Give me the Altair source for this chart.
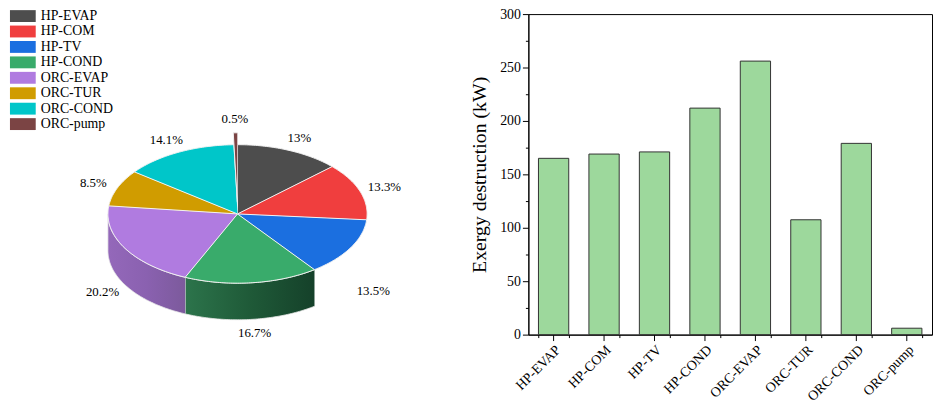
import math
import altair as alt
import pandas as pd

# ---------------- data ----------------
names = ["HP-EVAP", "HP-COM", "HP-TV", "HP-COND", "ORC-EVAP", "ORC-TUR", "ORC-COND", "ORC-pump"]
exergy_kw = [165, 169, 171, 212, 256, 107.5, 179, 6]
share_pct = [13, 13.3, 13.5, 16.7, 20.2, 8.5, 14.1, 0.5]
y_ticks = [0, 25, 50, 75, 100, 125, 150, 175, 200, 225, 250, 275, 300]

# ---------------- styles ----------------
slice_colors = ["#4d4d4d", "#f03e3e", "#1b6fe0", "#39ab6b", "#b07be0", "#d09c00", "#00c6c9", "#7b4444"]
exploded = ["ORC-pump"]
wall_gradients = {
    "HP-COND": ["#2c744b", "#1f5a38", "#15412a"],
    "ORC-EVAP": ["#9468ba", "#8a61b0", "#7c5a9c"],
}
FONT = "Liberation Serif"

# pie geometry (pixels inside the pie panel)
PW, PH = 440, 375
CX, CY, RX, RY, DEPTH, EXPLODE = 231, 202, 131, 70, 37, 12

total = sum(share_pct)
starts, ends = [], []
acc = 0.0
for p in share_pct:
    starts.append(acc / total * 360.0)
    acc += p
    ends.append(acc / total * 360.0)


def pt(phi, r=1.0, dx=0.0, dy=0.0):
    a = math.radians(phi)
    return CX + dx + RX * r * math.sin(a), CY + dy - RY * r * math.cos(a)


def arc(a, b):
    n = max(2, int(abs(b - a)) + 2)
    return [a + (b - a) * i / (n - 1) for i in range(n)]


top_rows, wall_rows, label_rows = [], [], []
for name, p, a, b in zip(names, share_pct, starts, ends):
    m = (a + b) / 2.0
    dx = dy = 0.0
    if name in exploded:
        dx = EXPLODE * math.sin(math.radians(m))
        dy = -EXPLODE * math.cos(math.radians(m))
    pts = [(CX + dx, CY + dy)] + [pt(f, 1.0, dx, dy) for f in arc(a, b)]
    for i, (x, y) in enumerate(pts):
        top_rows.append({"name": name, "i": i, "x": x, "y": y})
    if name in wall_gradients:
        wa, wb = max(a, 90.0), min(b, 270.0)
        edge = [pt(f) for f in arc(wa, wb)]
        poly = edge + [(x, y + DEPTH) for (x, y) in reversed(edge)]
        for i, (x, y) in enumerate(poly):
            wall_rows.append({"name": name, "i": i, "x": x, "y": y})
    lx, ly = pt(m, 1.2, dx, dy)
    if math.cos(math.radians(m)) < 0:
        ly += DEPTH
    label_rows.append({"name": name, "x": lx, "y": ly, "label": f"{p:g}%"})

top_df = pd.DataFrame(top_rows)
wall_df = pd.DataFrame(wall_rows)
label_df = pd.DataFrame(label_rows)

X = alt.X("x:Q", scale=alt.Scale(domain=[0, PW], nice=False, zero=False), axis=None)
Y = alt.Y("y:Q", scale=alt.Scale(domain=[0, PH], nice=False, zero=False, reverse=True), axis=None)

walls = []
for name, stops in wall_gradients.items():
    grad = alt.LinearGradient(
        gradient="linear",
        stops=[alt.GradientStop(color=c, offset=i / (len(stops) - 1)) for i, c in enumerate(stops)],
        x1=0, x2=1, y1=0, y2=0,
    )
    walls.append(
        alt.Chart(wall_df)
        .transform_filter(alt.datum.name == name)
        .mark_line(filled=True, fill=grad, stroke="#e8e8e8", strokeWidth=0.8)
        .encode(x=X, y=Y, order="i:Q")
    )

top = (
    alt.Chart(top_df)
    .mark_line(filled=True, stroke="#f2f2f2", strokeWidth=1, strokeJoin="round")
    .encode(
        x=X,
        y=Y,
        order="i:Q",
        color=alt.Color(
            "name:N",
            sort=names,
            scale=alt.Scale(domain=names, range=slice_colors),
            legend=alt.Legend(
                title=None,
                orient="none",
                legendX=7,
                legendY=-5,
                symbolType="M-2.17,-1L2.17,-1L2.17,1L-2.17,1Z",
                symbolSize=144,
                symbolStrokeWidth=0,
                labelFont=FONT,
                labelFontSize=14,
                labelColor="black",
                labelOffset=11,
                rowPadding=1.6,
            ),
        ),
    )
)

labels = (
    alt.Chart(label_df)
    .mark_text(font=FONT, fontSize=13, color="black", align="center", baseline="middle")
    .encode(x=X, y=Y, text="label:N")
)

pie = alt.layer(*walls, top, labels).properties(width=PW, height=PH)

# ---------------- bar chart ----------------
bar_df = pd.DataFrame({"name": names, "kw": exergy_kw})
xscale = alt.Scale(paddingInner=0.4, paddingOuter=0.2)

bars = (
    alt.Chart(bar_df)
    .mark_bar(fill="#9dd89c", stroke="#333333", strokeWidth=1)
    .encode(
        x=alt.X(
            "name:N",
            sort=names,
            scale=xscale,
            axis=alt.Axis(
                title=None,
                orient="bottom",
                labelAngle=-45,
                labelAlign="right",
                labelBaseline="top",
                labelFont=FONT,
                labelFontSize=14,
                labelColor="black",
                labelPadding=2,
                tickSize=6,
                tickColor="black",
                domainColor="black",
            ),
        ),
        y=alt.Y(
            "kw:Q",
            scale=alt.Scale(domain=[0, 300], nice=False),
            axis=alt.Axis(
                title="Exergy destruction (kW)",
                values=y_ticks,
                labelExpr="datum.value % 50 === 0 ? datum.label : ''",
                tickSize={"condition": {"test": "datum.value % 50 === 0", "value": 6}, "value": 3},
                tickColor="black",
                domainColor="black",
                grid=False,
                labelFont=FONT,
                labelFontSize=14,
                labelColor="black",
                labelPadding=2,
                titleFont=FONT,
                titleFontSize=20,
                titleFontWeight="normal",
                titleColor="black",
                titlePadding=10,
            ),
        ),
    )
)

minor = (
    alt.Chart(bar_df)
    .mark_bar(opacity=0)
    .encode(
        x=alt.X(
            "name:N",
            sort=names,
            scale=xscale,
            axis=alt.Axis(
                title=None,
                orient="bottom",
                labels=False,
                domain=False,
                tickBand="extent",
                tickSize=3,
                tickColor="black",
            ),
        )
    )
)

barchart = (
    alt.layer(bars, minor)
    .resolve_axis(x="independent")
    .properties(width=408, height=324, view=alt.ViewBackground(stroke="black", strokeWidth=1))
)

chart = (
    alt.hconcat(pie, barchart, spacing=24)
    .resolve_scale(x="independent", y="independent", color="independent")
    .properties(padding={"left": 0, "top": -4, "right": 0, "bottom": 0})
    .configure(font=FONT)
    .configure_view(stroke="transparent")
)

chart.save("out.html", embed_options={"renderer": "svg", "actions": False})
